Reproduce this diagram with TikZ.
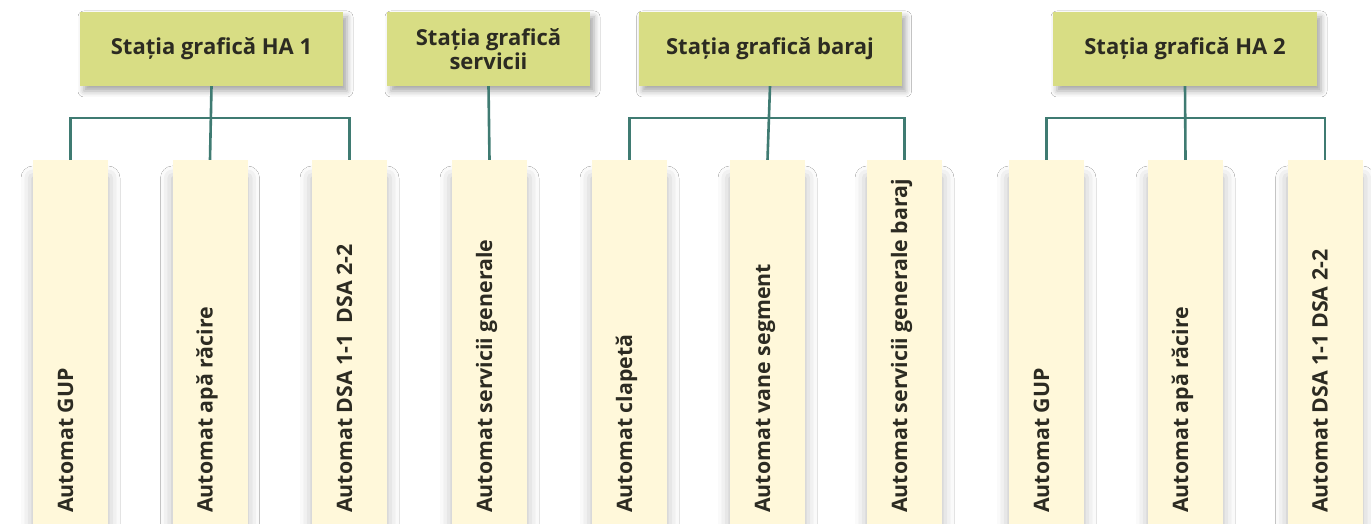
\documentclass[tikz,border=0pt]{standalone}
\usepackage{fontspec}
\setmainfont{Open Sans}
\usetikzlibrary{shadows.blur}
\definecolor{headfill}{HTML}{D8DD84}
\definecolor{leaffill}{HTML}{FFF8DA}
\definecolor{linkcol}{HTML}{3F7B72}
\definecolor{inkcol}{HTML}{2C2B22}
\tikzset{
  head/.style={rectangle, fill=headfill, minimum height=74, inner sep=0pt,
    font=\bfseries\fontsize{22}{24}\selectfont, text=inkcol, align=center,
    blur shadow={shadow xshift=4pt, shadow yshift=-5pt, shadow blur radius=6pt,
      shadow blur extra rounding=0pt, shadow opacity=35}},
  leaf/.style={rectangle, fill=leaffill, minimum width=75, minimum height=384, inner sep=0pt,
    blur shadow={shadow xshift=0pt, shadow yshift=-18pt, shadow blur radius=12pt,
      shadow blur extra rounding=0pt, shadow opacity=30}},
  leaftext/.style={rotate=90, anchor=mid west, inner sep=0pt,
    font=\bfseries\fontsize{21.3}{23}\selectfont, text=inkcol},
  link/.style={draw=linkcol, line width=2.6pt}
}
\begin{document}
\begin{tikzpicture}[x=1pt,y=1pt]
\useasboundingbox (0,0) rectangle (1371,524);
\fill[white] (0,0) rectangle (1371,524);
\clip (0,0) rectangle (1371,524);

% station headers
\node[head, minimum width=263] (h1) at (211.5,475) {Stația grafică HA 1};
\node[head, minimum width=203] (h2) at (488.5,475) {Stația grafică\\servicii};
\node[head, minimum width=263] (h3) at (770,475) {Stația grafică baraj};
\node[head, minimum width=264] (h4) at (1185,475) {Stația grafică HA 2};

% automaton columns
\foreach \n/\x in {k11/70.5, k12/210, k13/349.5, k21/489.5, k31/629.5,
                   k32/767.5, k33/904.5, k41/1046.5, k42/1185.5, k43/1325}
  \node[leaf] (\n) at (\x,172) {};

% column labels
\node[leaftext] (t11) at (k11.center |- 0,11) {Automat GUP};
\node[leaftext] (t12) at (k12.center |- 0,11) {Automat apă răcire};
\node[leaftext] (t13) at (k13.center |- 0,11) {Automat DSA 1-1\ \ DSA 2-2};
\node[leaftext] (t21) at (k21.center |- 0,11) {Automat servicii generale};
\node[leaftext] (t31) at (k31.center |- 0,11) {Automat clapetă};
\node[leaftext] (t32) at (k32.center |- 0,11) {Automat vane segment};
\node[leaftext] (t33) at (k33.center |- 0,11) {Automat servicii generale baraj};
\node[leaftext] (t41) at (k41.center |- 0,11) {Automat GUP};
\node[leaftext] (t42) at (k42.center |- 0,11) {Automat apă răcire};
\node[leaftext] (t43) at (k43.center |- 0,11) {Automat DSA 1-1 DSA 2-2};

% bus junctions
\coordinate (b1) at (h1.south |- 0,406);
\coordinate (b3) at (h3.south |- 0,406);
\coordinate (b4) at (h4.south |- 0,406);

% connectors
\draw[link] (h1.south) -- (k12.north);
\draw[link] (k11.north) |- (b1) -| (k13.north);
\draw[link] (h2.south) -- (k21.north);
\draw[link] (h3.south) -- (k32.north);
\draw[link] (k31.north) |- (b3) -| (k33.north);
\draw[link] (h4.south) -- (k42.north);
\draw[link] (k41.north) |- (b4) -| (k43.north);
\end{tikzpicture}
\end{document}
